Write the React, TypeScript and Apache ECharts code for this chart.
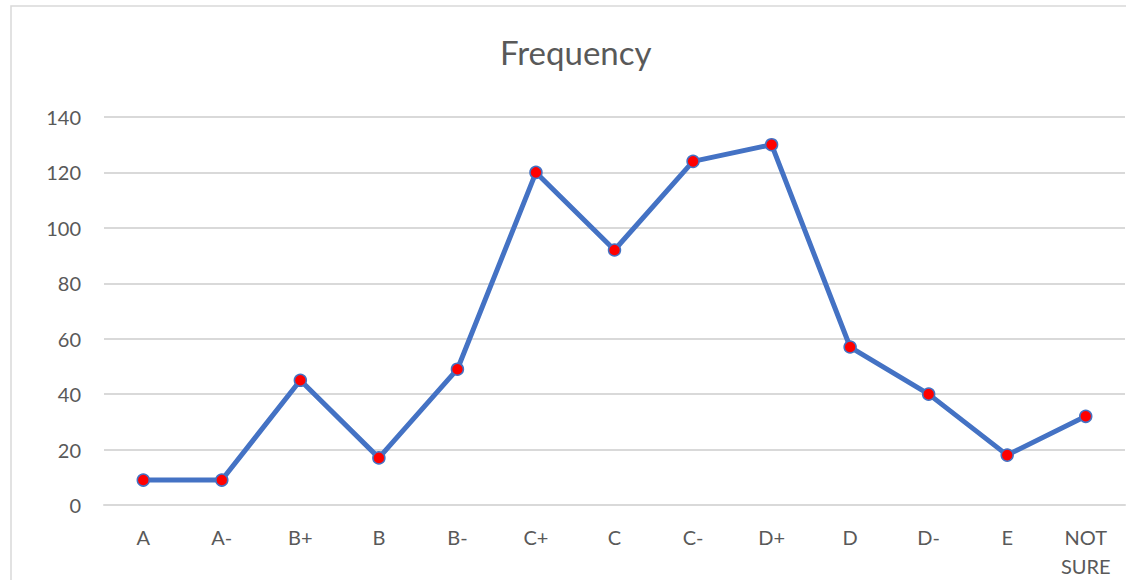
import React, { useEffect, useRef } from "react";
import * as echarts from "echarts";

const categories = ["A", "A-", "B+", "B", "B-", "C+", "C", "C-", "D+", "D", "D-", "E", "NOT\nSURE"];
const frequency = [9, 9, 45, 17, 49, 120, 92, 124, 130, 57, 40, 18, 32];
const titleText = "Frequency";

export default function App() {
  const ref = useRef<HTMLDivElement>(null);
  useEffect(() => {
    if (!ref.current) return;
    const chart = echarts.init(ref.current, undefined, { renderer: "svg" });
    const font = "Lato, 'Open Sans', sans-serif";
    chart.setOption({
      animation: false,
      backgroundColor: "#ffffff",
      title: {
        text: titleText,
        left: 495,
        top: 30,
        textStyle: { fontFamily: font, fontSize: 33, fontWeight: "normal", color: "#595959" },
      },
      graphic: [
        {
          type: "rect",
          shape: { x: 11, y: 6, width: 1200, height: 700 },
          style: { fill: "none", stroke: "#d9d9d9", lineWidth: 1.5 },
          silent: true,
        },
      ],
      grid: { left: 104, right: 1, top: 117, bottom: 70, containLabel: false },
      xAxis: {
        type: "category",
        data: categories,
        boundaryGap: true,
        axisLine: { show: true, lineStyle: { color: "#d9d9d9", width: 2 } },
        axisTick: { show: false },
        axisLabel: {
          fontFamily: font,
          fontSize: 20,
          color: "#595959",
          margin: 17,
          lineHeight: 29,
          interval: 0,
        },
      },
      yAxis: {
        type: "value",
        min: 0,
        max: 140,
        interval: 20,
        axisLine: { show: false },
        axisTick: { show: false },
        splitLine: { lineStyle: { color: "#d9d9d9", width: 2 } },
        axisLabel: { fontFamily: font, fontSize: 20, color: "#595959", margin: 23 },
      },
      series: [
        {
          type: "line",
          data: frequency,
          symbol: "circle",
          symbolSize: 12,
          lineStyle: { color: "#4472C4", width: 5 },
          itemStyle: { color: "#FF0000", borderColor: "#4472C4", borderWidth: 1.5 },
        },
      ],
    });
    return () => chart.dispose();
  }, []);
  return (
    <div
      ref={ref}
      style={{ position: "fixed", left: 0, top: 0, width: 1126, height: 580 }}
    />
  );
}
